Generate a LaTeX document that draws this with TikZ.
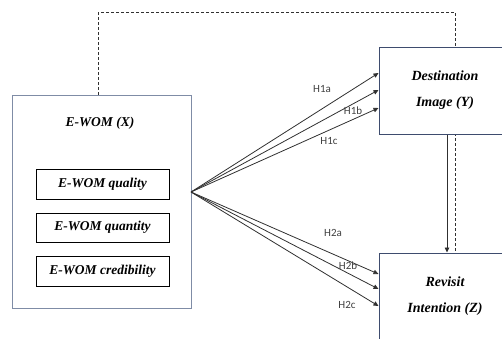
\documentclass[tikz,border=0pt]{standalone}
\usepackage{fontspec}
\setmainfont{Liberation Serif}
\newfontfamily\labfont{Carlito}
\usetikzlibrary{arrows.meta,backgrounds}
\definecolor{outerc}{HTML}{7F8CA6}
\definecolor{boxc}{HTML}{3E4C6E}
\definecolor{linec}{HTML}{303030}
\definecolor{labc}{HTML}{404040}
\tikzset{
  ewombox/.style={draw=outerc,line width=1pt,fill=white,rectangle,inner sep=0pt},
  subbox/.style={draw=black,line width=0.8pt,fill=white,rectangle,inner sep=0pt,minimum width=133pt,font=\fontsize{13.5}{16}\selectfont\bfseries\itshape},
  varbox/.style={draw=boxc,line width=1pt,fill=white,rectangle,inner sep=0pt},
  vartext/.style={font=\fontsize{14}{17}\selectfont\bfseries\itshape,inner sep=0pt},
  hyp/.style={font=\labfont\fontsize{11}{13}\selectfont,text=labc,inner sep=0pt},
  arr/.style={draw=linec,line width=0.8pt,-{Triangle[length=5pt,width=4.5pt]}},
}
\begin{document}
\begin{tikzpicture}[x=1pt,y=-1pt]
\useasboundingbox (0,0) rectangle (502,338);
\clip (0,0) rectangle (502,338);
% boxes
\node[ewombox,minimum width=179pt,minimum height=213pt] (ewom) at (101.5,201.5) {};
\node[vartext,font=\fontsize{13.5}{16}\selectfont\bfseries\itshape] (ewomt) at (100,123) {E-WOM (X)};
\node[subbox,minimum height=30pt] (q1) at (102.5,184) {E-WOM quality};
\node[subbox,minimum height=29pt] (q2) at (102.5,227.5) {E-WOM quantity};
\node[subbox,minimum height=30pt] (q3) at (102.5,271) {E-WOM credibility};
\node[varbox,minimum width=131pt,minimum height=87pt] (dest) at (444.5,90.5) {};
\node[vartext] (destt1) at (445,76) {Destination};
\node[vartext] (destt2) at (445,103) {Image (Y)};
\node[varbox,minimum width=131pt,minimum height=92pt] (rev) at (444.5,299) {};
\node[vartext] (revt1) at (445,282) {Revisit};
\node[vartext] (revt2) at (445,309) {Intention (Z)};
% dashed path
\begin{scope}[on background layer]
\draw[linec,line width=0.8pt,dash pattern=on 3pt off 2pt]
  ([xshift=-3.5pt]ewom.north) -- ++(0,-82) -| ([xshift=11pt]rev.north);
\end{scope}
% fan
\coordinate (fan) at (191,192);
\draw[arr] (fan) -- ([yshift=17.5pt]dest.west);
\draw[arr] (fan) -- ([yshift=0.5pt]dest.west);
\draw[arr] (fan) -- ([yshift=-17.5pt]dest.west);
\draw[arr] (fan) -- ([yshift=25pt]rev.west);
\draw[arr] (fan) -- ([yshift=10pt]rev.west);
\draw[arr] (fan) -- ([yshift=-7pt]rev.west);
\draw[arr] ([xshift=2.5pt]dest.south) -- ([xshift=2.5pt]rev.north);
% labels
\node[hyp] (h1a) at (322,89) {H1a};
\node[hyp] (h1b) at (353,111) {H1b};
\node[hyp] (h1c) at (329,141) {H1c};
\node[hyp] (h2a) at (333,233) {H2a};
\node[hyp] (h2b) at (348,266) {H2b};
\node[hyp] (h2c) at (347,305) {H2c};
\end{tikzpicture}
\end{document}
